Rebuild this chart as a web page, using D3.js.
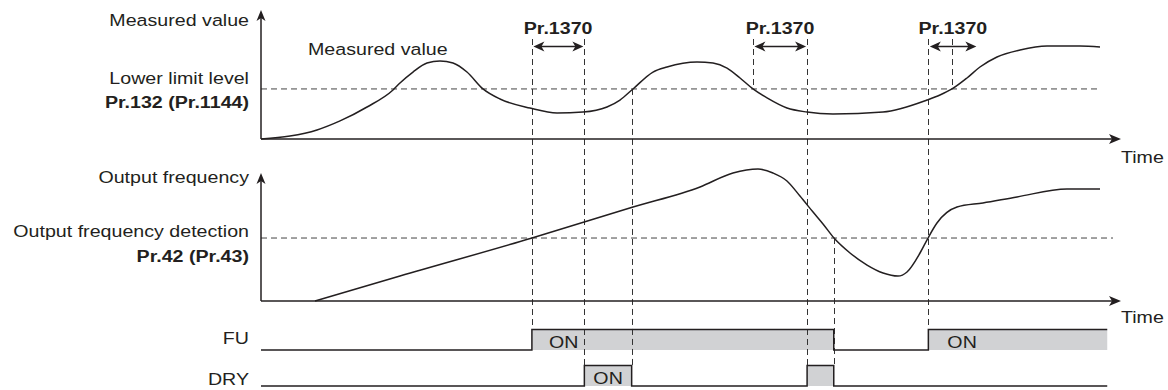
<!DOCTYPE html>
<html><head><meta charset="utf-8">
<script src="https://cdn.jsdelivr.net/npm/d3@7/dist/d3.min.js"></script>
<style>
html,body{margin:0;padding:0;background:#fff;}
svg{display:block;font-family:"Liberation Sans",Arial,Helvetica,sans-serif;}
</style>
</head><body>
<svg id="chart" width="1168" height="390"></svg>
<script>
// ---------------- data ----------------
const measuredT = [0, 3.37, 6.51, 9.19, 12.33, 15.35, 16.16, 17.67, 19.3, 20.81, 22.33, 23.95, 25.81, 27.79, 31.28, 34.42, 37.44, 40.23, 41.74, 43.26, 45.58, 47.21, 50.7, 52.56, 54.19, 55.7, 57.21, 58.84, 61.16, 63.49, 66.51, 72.33, 77.44, 78.95, 80.35, 82.09, 83.6, 85.58, 88.26, 91.4, 95.23, 97.56];
const measuredV = [0, 2.3, 7, 14, 24.8, 38, 43.4, 51.9, 58.9, 60.5, 58.9, 51.9, 38.8, 31, 24, 20.2, 20.9, 24.8, 30.2, 38.8, 51.9, 55.8, 59.7, 58.9, 55, 47.3, 38.8, 31.8, 24, 20.9, 19.4, 20.9, 30.2, 34.1, 38.8, 47.3, 55.8, 63.6, 69, 72.1, 72.1, 71.3];
const freqT = [6.28, 16.16, 31.51, 43.26, 51.05, 54.88, 57.79, 59.53, 61.16, 62.67, 64.19, 65.35, 66.63, 68.49, 70.47, 72.33, 74.07, 75.12, 76.63, 77.56, 78.6, 80.93, 83.95, 87.91, 93.72, 97.56];
const freqV = [0, 19.5, 49.2, 73.4, 89.1, 100, 103.1, 100, 93.75, 82, 69.5, 60.2, 49.2, 37.5, 28.1, 21.9, 19.5, 22.7, 37.5, 49.2, 60.9, 73.4, 76.6, 81.3, 87.5, 87.5];
const lowerLimit = 38.8;
const freqDetection = 49.2;

const signalNames = ["FU", "DRY"];
const fuEdges = [31.5, 66.6, 77.6];          // toggle times, starts OFF
const dryEdges = [37.6, 43.1, 63.5, 66.6];   // toggle times, starts OFF
const signalEnd = 98.4;
const onLabelTimes = [31.5, 37.6, 77.6];
const onLabelSignals = ["FU", "DRY", "FU"];

const delayStart = [31.5, 57.2, 77.6];
const delayEnd = [37.6, 63.5, 83.3];
const delayText = "Pr.1370";

const guideTimes = [31.5, 37.6, 43.1, 57.2, 63.5, 66.6, 77.6, 80.35];
const guideFrom = ["arrow", "arrow", "limit", "arrow", "arrow", "detect", "arrow", "arrow"];
const guideTo = ["FU", "DRY", "DRY", "limit", "DRY", "DRY", "FU", "limit"];

// ---------------- layout ----------------
const ink = "#231f20";
const svg = d3.select("#chart");
const x = d3.scaleLinear().domain([0, 100]).range([261, 1121]);
const yTop = d3.scaleLinear().domain([0, 100]).range([139, 10]);
const yMid = d3.scaleLinear().domain([0, 100]).range([301, 173]);
const ySig = d3.scalePoint().domain(signalNames).range([350, 386]);
const levelH = 20.5;
const arrowY = 46.5, guideTopY = 39;
const SX = 1.155;

function label(str, px, py, anchor, bold, g) {
  return (g || svg).append("text")
    .attr("transform", `translate(${px},${py}) scale(${SX},1)`)
    .attr("text-anchor", anchor || "start")
    .attr("font-size", 17)
    .attr("font-weight", bold ? "bold" : "normal")
    .attr("fill", ink)
    .text(str);
}
function head(px, py, angleDeg, len, half, notch) {
  const p = `M0,0 L${-len},${-half} L${-len + notch},0 L${-len},${half} Z`;
  svg.append("path").attr("d", p)
    .attr("transform", `translate(${px},${py}) rotate(${angleDeg})`)
    .attr("fill", ink);
}

function states(edges) {
  const s = [{t: 0, v: 0}];
  let cur = 0;
  edges.forEach(t => { cur = 1 - cur; s.push({t, v: cur}); });
  s.push({t: signalEnd, v: cur});
  return s;
}
const sigData = {FU: states(fuEdges), DRY: states(dryEdges)};

// gray ON fills
signalNames.forEach(n => {
  const area = d3.area().curve(d3.curveStepAfter)
    .x(d => x(d.t)).y0(ySig(n)).y1(d => ySig(n) - d.v * levelH);
  svg.append("path").attr("d", area(sigData[n])).attr("fill", "#d1d2d4");
});

// horizontal dashed reference levels
svg.append("line").attr("x1", x(0)).attr("x2", x(97.6))
  .attr("y1", yTop(lowerLimit)).attr("y2", yTop(lowerLimit))
  .attr("stroke", "#444").attr("stroke-width", 1).attr("stroke-dasharray", "6,4");
svg.append("line").attr("x1", x(0)).attr("x2", x(99.07))
  .attr("y1", yMid(freqDetection)).attr("y2", yMid(freqDetection))
  .attr("stroke", "#444").attr("stroke-width", 1).attr("stroke-dasharray", "6,4");

// vertical guides
function levelY(k) {
  if (k === "arrow") return guideTopY;
  if (k === "limit") return yTop(lowerLimit);
  if (k === "detect") return yMid(freqDetection);
  return ySig(k) - levelH;
}
guideTimes.forEach((t, i) => {
  svg.append("line").attr("x1", Math.round(x(t)) + 0.5).attr("x2", Math.round(x(t)) + 0.5)
    .attr("y1", levelY(guideFrom[i])).attr("y2", levelY(guideTo[i]))
    .attr("stroke", "#333").attr("stroke-width", 1).attr("stroke-dasharray", "6,4");
});

// axes
[yTop, yMid].forEach(ys => {
  svg.append("line").attr("x1", x(0)).attr("x2", x(0)).attr("y1", ys(0)).attr("y2", ys(100) + 6)
    .attr("stroke", ink).attr("stroke-width", 1.5);
  head(x(0), ys(100), -90, 11, 4.5, 3);
  svg.append("line").attr("x1", x(0)).attr("x2", x(100) - 6).attr("y1", ys(0)).attr("y2", ys(0))
    .attr("stroke", ink).attr("stroke-width", 1.5);
  head(x(100), ys(0), 0, 12, 5, 3);
});

// curves
const measured = measuredT.map((t, i) => ({t, v: measuredV[i]}));
const freq = freqT.map((t, i) => ({t, v: freqV[i]}));
svg.append("path").attr("d", d3.line().curve(d3.curveMonotoneX).x(d => x(d.t)).y(d => yTop(d.v))(measured))
  .attr("fill", "none").attr("stroke", ink).attr("stroke-width", 1.5);
svg.append("path").attr("d", d3.line().curve(d3.curveMonotoneX).x(d => x(d.t)).y(d => yMid(d.v))(freq))
  .attr("fill", "none").attr("stroke", ink).attr("stroke-width", 1.5);

// signal lines
signalNames.forEach(n => {
  const line = d3.line().curve(d3.curveStepAfter).x(d => x(d.t)).y(d => ySig(n) - d.v * levelH);
  svg.append("path").attr("d", line(sigData[n])).attr("fill", "none")
    .attr("stroke", ink).attr("stroke-width", 1.5);
});

// Pr.1370 delay arrows
delayStart.forEach((t0, i) => {
  const x0 = x(t0) + 1.5, x1 = x(delayEnd[i]) - 1;
  svg.append("line").attr("x1", x0 + 6).attr("x2", x1 - 6).attr("y1", arrowY).attr("y2", arrowY)
    .attr("stroke", ink).attr("stroke-width", 1.5);
  head(x0, arrowY, 180, 11, 5, 3);
  head(x1, arrowY, 0, 11, 5, 3);
  label(delayText, (x(t0) + x(delayEnd[i])) / 2, 34, "middle", true);
});

// ON labels
const onOffsets = [17, 9, 19];
onLabelTimes.forEach((t, i) => {
  const n = onLabelSignals[i];
  label("ON", x(t) + onOffsets[i], ySig(n) - 2, "start", false);
});

// texts
label("Measured value", 249, 26, "end");
label("Measured value", 308, 55, "start");
label("Lower limit level", 249, 84, "end");
label("Pr.132 (Pr.1144)", 249, 108, "end", true);
label("Output frequency", 249, 183, "end");
label("Output frequency detection", 249, 237, "end");
label("Pr.42 (Pr.43)", 249, 262, "end", true);
label("FU", 249, 344, "end");
label("DRY", 249, 385, "end");
label("Time", 1121, 163, "start");
label("Time", 1121, 323, "start");
</script>
</body></html>
